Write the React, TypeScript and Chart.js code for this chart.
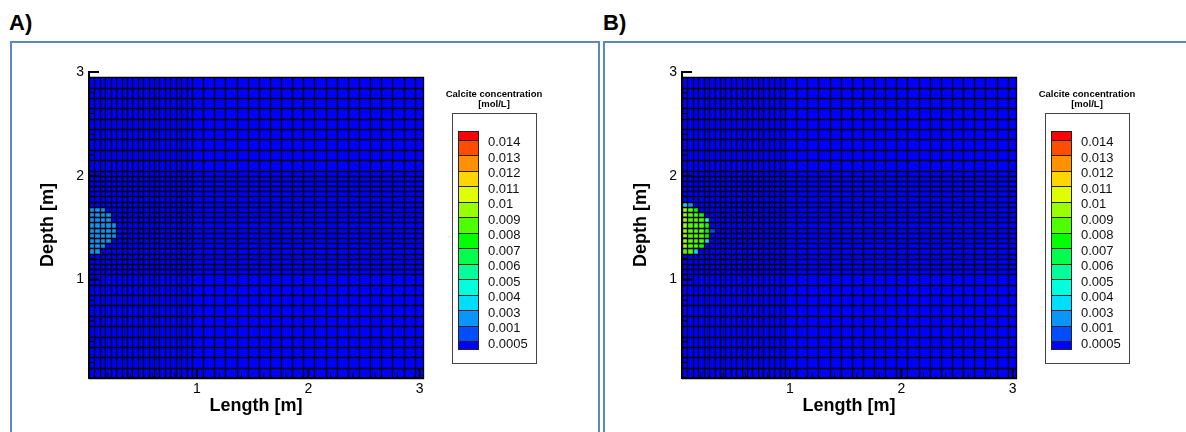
import React, { useEffect, useRef } from "react";
import { Chart, registerables } from "chart.js";
Chart.register(...registerables);

const FONT = 'Arial, "Liberation Sans", sans-serif';

// ---- mesh (cell edges, metres) ----
const xEdges = [
  0.03, 0.079, 0.127, 0.176, 0.225, 0.273, 0.322, 0.371, 0.419, 0.468,
  0.517, 0.565, 0.614, 0.663, 0.711, 0.76, 0.809, 0.857, 0.906, 0.955,
  1.055, 1.155, 1.255, 1.355, 1.455, 1.555, 1.655, 1.755, 1.855, 1.955,
  2.055, 2.155, 2.255, 2.355, 2.455, 2.555, 2.655, 2.755, 2.855, 2.955, 3.03,
];
const yEdges = [
  0.05, 0.15, 0.25, 0.35, 0.45, 0.55, 0.65, 0.75, 0.85, 0.95, 1.05,
  1.1, 1.15, 1.2, 1.25, 1.3, 1.35, 1.4, 1.45, 1.5, 1.55, 1.6, 1.65, 1.7,
  1.75, 1.8, 1.85, 1.9, 1.95, 2.0, 2.05,
  2.15, 2.25, 2.35, 2.45, 2.55, 2.65, 2.75, 2.85, 2.95,
];

// ---- axes ----
const xTicks = [1, 2, 3];
const yTicks = [1, 2, 3];
const minorTicks = [0.2, 0.4, 0.6, 0.8, 1.2, 1.4, 1.6, 1.8, 2.2, 2.4, 2.6, 2.8];
const xTitle = "Length [m]";
const yTitle = "Depth [m]";

// ---- legend ----
const legendTitle = ["Calcite concentration", "[mol/L]"];
const legendLevels = [0.014, 0.013, 0.012, 0.011, 0.01, 0.009, 0.008, 0.007, 0.006, 0.005, 0.004, 0.003, 0.001, 0.0005];
const legendLabels = ["0.014", "0.013", "0.012", "0.011", "0.01", "0.009", "0.008", "0.007", "0.006", "0.005", "0.004", "0.003", "0.001", "0.0005"];
const legendColors = [
  "#ff0000", "#ff4d00", "#ff9100", "#ffd500", "#dfff00", "#99ff00", "#4dff00",
  "#00ff00", "#00ff4d", "#00ff99", "#00ffdd", "#00ddff", "#0a96f8", "#004dff", "#0000ff",
];

// ---- concentration field: non-zero cells (row bottom depth, values from first column) ----
const rowsA = [1.65, 1.6, 1.55, 1.5, 1.45, 1.4, 1.35, 1.3, 1.25];
const concA = [
  [0.002, 0.002, 0.002],
  [0.002, 0.002, 0.002, 0.002],
  [0.002, 0.002, 0.002, 0.002],
  [0.002, 0.002, 0.002, 0.002, 0.002],
  [0.002, 0.002, 0.002, 0.002, 0.002],
  [0.002, 0.002, 0.002, 0.002, 0.002],
  [0.002, 0.002, 0.002, 0.002],
  [0.002, 0.002, 0.002],
  [0.002, 0.002],
];
const rowsB = [1.7, 1.65, 1.6, 1.55, 1.5, 1.45, 1.4, 1.35, 1.3, 1.25];
const concB = [
  [0.0035, 0.002],
  [0.0095, 0.0085, 0.0075],
  [0.0095, 0.0085, 0.0085, 0.0075],
  [0.0095, 0.0085, 0.0085, 0.0085, 0.0045],
  [0.0095, 0.0085, 0.0085, 0.0085, 0.0075],
  [0.0095, 0.0085, 0.0085, 0.0085, 0.0075, 0.0008],
  [0.0095, 0.0085, 0.0085, 0.0085, 0.0075],
  [0.0095, 0.0085, 0.0085, 0.0085, 0.0035],
  [0.0095, 0.0085, 0.0085, 0.0075],
  [0.0085, 0.0085, 0.0035],
];

// ---- layout (pixels) ----
const CANVAS_W = 593;
const CANVAS_H = 432;
const LEG = {
  boxX: 452, boxY: 113, boxW: 84, boxH: 250,
  barX: 458, barW: 21, barTop: 131, firstB: 139.5, step: 15.5, barBottom: 349,
  labelX: 488, titleX: 494, titleY1: 94, titleY2: 104.5,
};

function colorFor(v: number) {
  for (let i = 0; i < legendLevels.length; i++) {
    if (v >= legendLevels[i]) return legendColors[i];
  }
  return legendColors[legendColors.length - 1];
}

function rowIndex(bottom: number) {
  for (let i = 0; i < yEdges.length; i++) if (Math.abs(yEdges[i] - bottom) < 1e-6) return i;
  return -1;
}

function makePlugins(rows: number[], conc: number[][]) {
  const field = new Map<string, number>();
  rows.forEach((r, k) => {
    const ri = rowIndex(r);
    conc[k].forEach((v, c) => field.set(c + "," + ri, v));
  });
  const mesh = {
    id: "mesh",
    beforeDatasetsDraw(chart: any) {
      const { ctx, scales } = chart;
      const X = (v: number) => Math.round(scales.x.getPixelForValue(v));
      const Y = (v: number) => Math.round(scales.y.getPixelForValue(v));
      ctx.save();
      for (let c = 0; c < xEdges.length - 1; c++) {
        for (let r = 0; r < yEdges.length - 1; r++) {
          const v = field.get(c + "," + r) ?? 0;
          const x0 = X(xEdges[c]), x1 = X(xEdges[c + 1]);
          const y0 = Y(yEdges[r]), y1 = Y(yEdges[r + 1]);
          ctx.fillStyle = colorFor(v);
          ctx.fillRect(x0, y1, x1 - x0, y0 - y1);
        }
      }
      ctx.strokeStyle = "#000";
      ctx.lineWidth = 1.35;
      ctx.beginPath();
      const yb = Y(yEdges[0]) + 1, yt = Y(yEdges[yEdges.length - 1]);
      const xl = X(xEdges[0]), xr = X(xEdges[xEdges.length - 1]) + 1;
      xEdges.forEach((e) => {
        const px = X(e) + 0.5;
        ctx.moveTo(px, yb);
        ctx.lineTo(px, yt);
      });
      yEdges.forEach((e) => {
        const py = Y(e) + 0.5;
        ctx.moveTo(xl, py);
        ctx.lineTo(xr, py);
      });
      ctx.stroke();
      ctx.restore();
    },
  };
  const overlay = {
    id: "overlay",
    afterDraw(chart: any) {
      const { ctx, scales, chartArea } = chart;
      const X = (v: number) => scales.x.getPixelForValue(v);
      const Y = (v: number) => scales.y.getPixelForValue(v);
      ctx.save();
      ctx.strokeStyle = "#000";
      // inward ticks
      ctx.lineWidth = 2;
      ctx.beginPath();
      xTicks.forEach((v) => { ctx.moveTo(X(v), chartArea.bottom); ctx.lineTo(X(v), chartArea.bottom - 9); });
      yTicks.forEach((v) => { ctx.moveTo(chartArea.left, Y(v)); ctx.lineTo(chartArea.left + 10, Y(v)); });
      ctx.stroke();
      ctx.lineWidth = 1;
      ctx.beginPath();
      minorTicks.forEach((v) => {
        ctx.moveTo(X(v), chartArea.bottom); ctx.lineTo(X(v), chartArea.bottom - 5);
        ctx.moveTo(chartArea.left, Y(v)); ctx.lineTo(chartArea.left + 5, Y(v));
      });
      ctx.stroke();

      // colour legend
      ctx.fillStyle = "#000";
      ctx.font = "bold 9.5px " + FONT;
      ctx.textAlign = "center";
      ctx.textBaseline = "middle";
      ctx.fillText(legendTitle[0], LEG.titleX, LEG.titleY1);
      ctx.fillText(legendTitle[1], LEG.titleX, LEG.titleY2);
      ctx.strokeStyle = "#444";
      ctx.lineWidth = 1;
      ctx.strokeRect(LEG.boxX + 0.5, LEG.boxY + 0.5, LEG.boxW, LEG.boxH);
      const n = legendColors.length;
      for (let i = 0; i < n; i++) {
        const top = Math.round(i === 0 ? LEG.barTop : LEG.firstB + LEG.step * (i - 1));
        const bot = Math.round(i === n - 1 ? LEG.barBottom : LEG.firstB + LEG.step * i);
        ctx.fillStyle = legendColors[i];
        ctx.fillRect(LEG.barX, top, LEG.barW, bot - top);
        ctx.strokeStyle = "#222";
        ctx.strokeRect(LEG.barX + 0.5, top + 0.5, LEG.barW - 1, bot - top);
      }
      ctx.fillStyle = "#111";
      ctx.font = "13px " + FONT;
      ctx.textAlign = "left";
      legendLabels.forEach((t, k) => ctx.fillText(t, LEG.labelX, LEG.firstB + LEG.step * k + 3));
      ctx.restore();
    },
  };
  return [mesh, overlay];
}

function Panel({ left, rows, conc }: { left: number; rows: number[]; conc: number[][] }) {
  const ref = useRef<HTMLCanvasElement | null>(null);
  useEffect(() => {
    if (!ref.current) return;
    const chart = new Chart(ref.current, {
      type: "scatter",
      data: { datasets: [] },
      options: {
        responsive: false,
        animation: false,
        events: [],
        layout: { padding: { left: 0, right: CANVAS_W - 423, top: 72, bottom: 0 } },
        plugins: { legend: { display: false }, tooltip: { enabled: false } },
        scales: {
          x: {
            type: "linear",
            position: "bottom",
            min: 0.03,
            max: 3.03,
            afterBuildTicks: (s: any) => { s.ticks = xTicks.map((v) => ({ value: v })); },
            afterFit: (s: any) => { s.height = 54; },
            grid: { display: false, drawTicks: false },
            border: { display: true, color: "#000", width: 2, z: 1 },
            ticks: { color: "#000", padding: 3, autoSkip: false, maxRotation: 0, font: { family: FONT, size: 14 }, callback: (v: any) => String(v) },
            title: { display: true, text: xTitle, color: "#000", font: { family: FONT, size: 18, weight: "bold" }, padding: { top: 0, bottom: 15 } },
          },
          y: {
            type: "linear",
            position: "left",
            min: 0.05,
            max: 3,
            afterBuildTicks: (s: any) => { s.ticks = yTicks.map((v) => ({ value: v })); },
            afterFit: (s: any) => { s.width = 89; },
            grid: { display: false, drawTicks: false },
            border: { display: true, color: "#000", width: 2, z: 1 },
            ticks: { color: "#000", padding: 5, autoSkip: false, font: { family: FONT, size: 14 }, callback: (v: any) => String(v) },
            title: { display: true, text: yTitle, color: "#000", font: { family: FONT, size: 18, weight: "bold" }, padding: { top: 37, bottom: 0 } },
          },
        },
      } as any,
      plugins: makePlugins(rows, conc) as any,
    });
    return () => chart.destroy();
  }, []);
  return (
    <canvas
      ref={ref}
      width={CANVAS_W}
      height={CANVAS_H}
      style={{ position: "absolute", left, top: 0, width: CANVAS_W, height: CANVAS_H }}
    />
  );
}

export default function App() {
  const boxStyle: React.CSSProperties = {
    position: "absolute",
    top: 41,
    height: 460,
    border: "2px solid #5b87c6",
    boxSizing: "border-box",
  };
  const labelStyle: React.CSSProperties = {
    position: "absolute",
    top: 12,
    font: "bold 22px " + FONT,
    lineHeight: "22px",
    color: "#000",
  };
  return (
    <div style={{ position: "fixed", left: 0, top: 0, width: 1186, height: 432, overflow: "hidden", background: "#fff" }}>
      <div style={{ ...boxStyle, left: 10, width: 590 }} />
      <div style={{ ...boxStyle, left: 603, width: 600 }} />
      <div style={{ ...labelStyle, left: 9 }}>A)</div>
      <div style={{ ...labelStyle, left: 603 }}>B)</div>
      <Panel left={0} rows={rowsA} conc={concA} />
      <Panel left={593} rows={rowsB} conc={concB} />
    </div>
  );
}
